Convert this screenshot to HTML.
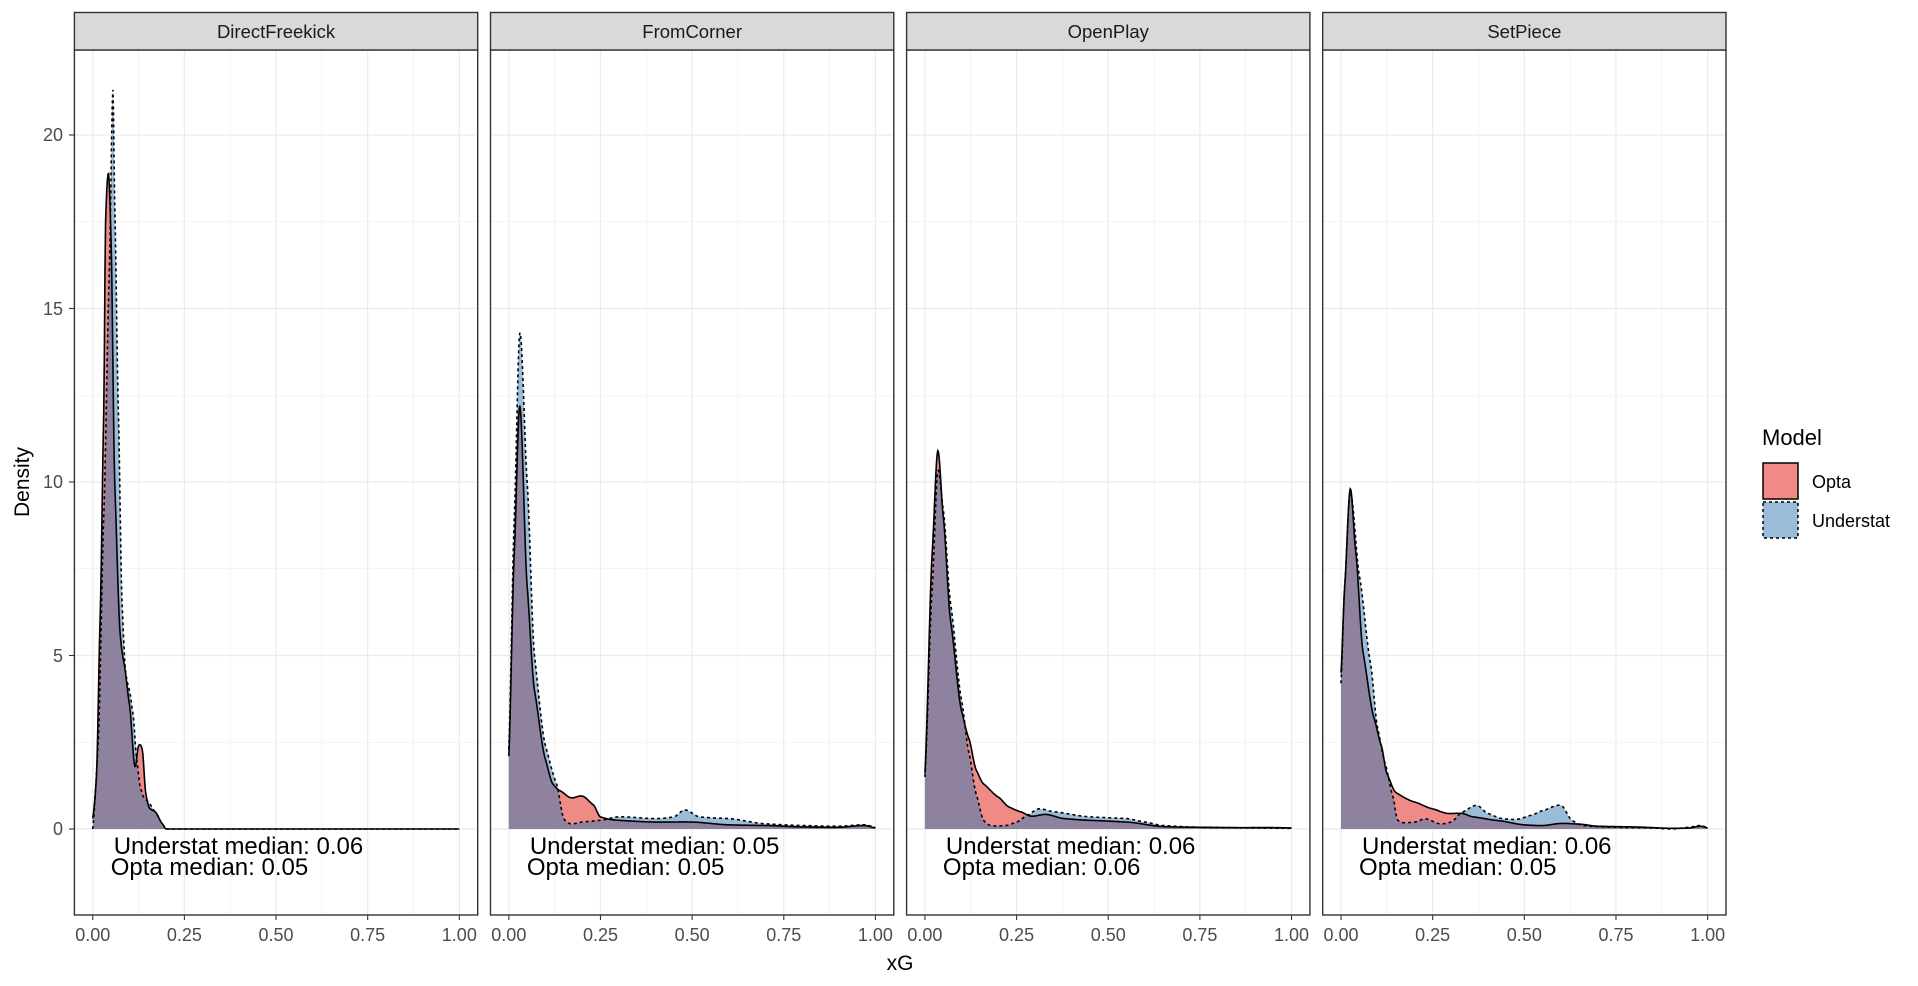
<!DOCTYPE html>
<html><head><meta charset="utf-8"><style>
html,body{margin:0;padding:0;background:#fff;}
svg{display:block;font-family:"Liberation Sans",Arial,sans-serif;}
</style></head><body>
<svg id="s" width="1918" height="986" viewBox="0 0 1918 986" xmlns="http://www.w3.org/2000/svg">
<rect width="1918" height="986" fill="#fff"/>
<g id="panels"></g>
<text x="900" y="970" font-size="21" text-anchor="middle" fill="#000">xG</text>
<text transform="translate(29,482) rotate(-90)" font-size="21" text-anchor="middle" fill="#000">Density</text>
<g font-size="18" fill="#4D4D4D" text-anchor="end">
<text x="63" y="835">0</text><text x="63" y="662">5</text><text x="63" y="488">10</text><text x="63" y="315">15</text><text x="63" y="141">20</text>
</g>
<g stroke="#333" stroke-width="1.1">
<line x1="69" x2="74.4" y1="829" y2="829"/><line x1="69" x2="74.4" y1="655.5" y2="655.5"/><line x1="69" x2="74.4" y1="482" y2="482"/><line x1="69" x2="74.4" y1="308.5" y2="308.5"/><line x1="69" x2="74.4" y1="135" y2="135"/>
</g>
<text x="1762" y="445" font-size="22" fill="#000">Model</text>
<rect x="1763" y="463" width="35" height="36" fill="#EF8A87" stroke="#000" stroke-width="1.5"/>
<rect x="1763" y="502" width="35" height="36" fill="#9BBCD9" stroke="#000" stroke-width="1.5" stroke-dasharray="3,3"/>
<text x="1812" y="488" font-size="18" fill="#000">Opta</text>
<text x="1812" y="527" font-size="18" fill="#000">Understat</text>
</svg>
<script>
(function(){
var NS="http://www.w3.org/2000/svg";
var g=document.getElementById("panels");
var W=403.3, step=416.1, L0=74.4, TOP=12.5, SB=50, BOT=915, Y0=829, YU=34.7, XU=366.6;
var names=["DirectFreekick","FromCorner","OpenPlay","SetPiece"];
var med=[["0.06","0.05"],["0.05","0.05"],["0.06","0.06"],["0.06","0.05"]];
var opta=[
[[0,0.3],[0.01,1.5],[0.02,6],[0.03,12],[0.035,17.5],[0.043,18.9],[0.05,17],[0.06,10],[0.075,5.6],[0.085,4.8],[0.1,3.6],[0.115,1.8],[0.125,2.4],[0.135,2.3],[0.145,1.0],[0.155,0.6],[0.17,0.5],[0.19,0.15],[0.2,0],[0.3,0],[1,0]],
[[0,2.1],[0.015,8],[0.03,12.2],[0.05,7],[0.07,4.0],[0.1,2.0],[0.12,1.3],[0.14,1.1],[0.17,0.9],[0.2,0.95],[0.23,0.7],[0.25,0.35],[0.3,0.25],[0.4,0.2],[0.5,0.2],[0.6,0.12],[0.7,0.1],[0.8,0.06],[0.9,0.05],[0.97,0.1],[1,0.03]],
[[0,1.6],[0.02,8],[0.035,10.9],[0.05,9],[0.07,6],[0.1,3.4],[0.12,2.6],[0.14,1.7],[0.16,1.3],[0.2,0.92],[0.23,0.63],[0.26,0.5],[0.29,0.37],[0.33,0.42],[0.38,0.3],[0.45,0.25],[0.55,0.2],[0.65,0.07],[0.75,0.05],[0.85,0.04],[0.95,0.04],[1,0.03]],
[[0,4.5],[0.01,7],[0.025,9.8],[0.04,8.0],[0.06,5.1],[0.09,3.2],[0.11,2.4],[0.125,1.6],[0.15,1.05],[0.2,0.78],[0.25,0.58],[0.29,0.45],[0.33,0.45],[0.36,0.35],[0.43,0.24],[0.5,0.12],[0.55,0.1],[0.6,0.16],[0.65,0.14],[0.7,0.08],[0.8,0.06],[0.9,0.02],[0.95,0.03],[0.98,0.08],[1,0.03]]
];
var und=[
[[0,0],[0.015,2.5],[0.03,9],[0.045,16],[0.055,21.3],[0.06,18],[0.07,12],[0.08,6.5],[0.09,4.5],[0.1,4.0],[0.11,3.3],[0.12,2.0],[0.13,1.2],[0.14,0.9],[0.15,0.8],[0.17,0.5],[0.19,0.15],[0.2,0],[0.3,0],[1,0]],
[[0,2.3],[0.015,9],[0.03,14.3],[0.05,10],[0.07,5],[0.1,2.4],[0.13,1.3],[0.15,0.3],[0.17,0.15],[0.2,0.2],[0.25,0.25],[0.3,0.35],[0.4,0.3],[0.45,0.35],[0.48,0.55],[0.52,0.35],[0.6,0.3],[0.7,0.15],[0.8,0.1],[0.9,0.08],[0.97,0.12],[1,0.05]],
[[0,1.5],[0.02,7],[0.035,10.3],[0.05,9.2],[0.07,6.5],[0.1,3.7],[0.12,2.2],[0.14,1.0],[0.16,0.25],[0.18,0.1],[0.22,0.1],[0.25,0.2],[0.28,0.4],[0.31,0.58],[0.35,0.5],[0.45,0.35],[0.55,0.3],[0.6,0.2],[0.65,0.1],[0.75,0.05],[0.9,0.03],[1,0.02]],
[[0,4.2],[0.01,7],[0.025,9.7],[0.05,7.3],[0.08,4.8],[0.1,2.9],[0.12,1.9],[0.14,1.0],[0.155,0.25],[0.2,0.2],[0.23,0.29],[0.27,0.15],[0.3,0.2],[0.33,0.48],[0.37,0.68],[0.4,0.45],[0.44,0.3],[0.48,0.28],[0.52,0.4],[0.55,0.53],[0.6,0.68],[0.63,0.25],[0.66,0.1],[0.75,0.05],[0.85,0.03],[0.9,0.0],[0.95,0.05],[0.98,0.1],[1,0.04]]
];
function interp(p,x){
 for(var i=0;i<p.length-1;i++){ if(x<=p[i+1][0]){
  var p0=p[Math.max(i-1,0)],p1=p[i],p2=p[i+1],p3=p[Math.min(i+2,p.length-1)];
  var t=(x-p1[0])/(p2[0]-p1[0]);
  var m1=(p2[1]-p0[1])/(p2[0]-p0[0]||1)*(p2[0]-p1[0]);
  var m2=(p3[1]-p1[1])/(p3[0]-p1[0]||1)*(p2[0]-p1[0]);
  var t2=t*t,t3=t2*t;
  var v=(2*t3-3*t2+1)*p1[1]+(t3-2*t2+t)*m1*0.6+(-2*t3+3*t2)*p2[1]+(t3-t2)*m2*0.6;
  return Math.max(0,v);}}
 return p[p.length-1][1];
}
function el(n,a,par){var e=document.createElementNS(NS,n);for(var k in a)e.setAttribute(k,a[k]);(par||g).appendChild(e);return e;}
for(var k=0;k<4;k++){
 var L=L0+k*step, R=L+W, x0=L+W*0.05/1.1;
 var X=function(v){return x0+v*XU;}, Y=function(v){return Y0-v*YU;};
 el("rect",{x:L,y:SB,width:W,height:BOT-SB,fill:"#fff"});
 [0.125,0.375,0.625,0.875].forEach(function(v){el("line",{x1:X(v),x2:X(v),y1:SB,y2:BOT,stroke:"#EBEBEB","stroke-width":0.6});});
 [2.5,7.5,12.5,17.5,22.5,-2.5].forEach(function(v){var yy=Y(v);if(yy>SB&&yy<BOT)el("line",{x1:L,x2:R,y1:yy,y2:yy,stroke:"#EBEBEB","stroke-width":0.6});});
 [0,0.25,0.5,0.75,1].forEach(function(v){el("line",{x1:X(v),x2:X(v),y1:SB,y2:BOT,stroke:"#EBEBEB","stroke-width":1.2});});
 [0,5,10,15,20].forEach(function(v){el("line",{x1:L,x2:R,y1:Y(v),y2:Y(v),stroke:"#EBEBEB","stroke-width":1.2});});
 var N=600, o=[], u=[];
 for(var i=0;i<=N;i++){var xv=i/N;o.push(interp(opta[k],xv));u.push(interp(und[k],xv));}
 function poly(arr){var s="M"+X(0)+","+Y(0);for(var i=0;i<=N;i++)s+=" L"+X(i/N).toFixed(2)+","+Y(arr[i]).toFixed(2);return s+" L"+X(1)+","+Y(0)+"Z";}
 function line(arr){var s="";for(var i=0;i<=N;i++)s+=(i?" L":"M")+X(i/N).toFixed(2)+","+Y(arr[i]).toFixed(2);return s;}
 var mn=o.map(function(v,i){return Math.min(v,u[i]);});
 el("path",{d:poly(o),fill:"#EF8A87"});
 el("path",{d:poly(u),fill:"#9BBCD9"});
 el("path",{d:poly(mn),fill:"#8F829E"});
 el("path",{d:line(u),fill:"none",stroke:"#000","stroke-width":1.6,"stroke-dasharray":"3,3"});
 el("path",{d:line(o),fill:"none",stroke:"#000","stroke-width":1.6});
 var t1=el("text",{x:x0+21,y:854,"font-size":24,fill:"#000"});t1.textContent="Understat median: "+med[k][0];
 var t2=el("text",{x:x0+18,y:875,"font-size":24,fill:"#000"});t2.textContent="Opta median: "+med[k][1];
 el("rect",{x:L,y:SB,width:W,height:BOT-SB,fill:"none",stroke:"#333","stroke-width":1.4});
 el("rect",{x:L,y:TOP,width:W,height:SB-TOP,fill:"#D9D9D9",stroke:"#333","stroke-width":1.4});
 var st=el("text",{x:L+W/2,y:38,"font-size":18.5,fill:"#1A1A1A","text-anchor":"middle"});st.textContent=names[k];
 ["0.00","0.25","0.50","0.75","1.00"].forEach(function(s,j){
  var xx=X(j*0.25);
  el("line",{x1:xx,x2:xx,y1:BOT,y2:BOT+5,stroke:"#333","stroke-width":1.1});
  var tt=el("text",{x:xx,y:941,"font-size":18,fill:"#4D4D4D","text-anchor":"middle"});tt.textContent=s;
 });
}
})();
</script>
</body></html>
